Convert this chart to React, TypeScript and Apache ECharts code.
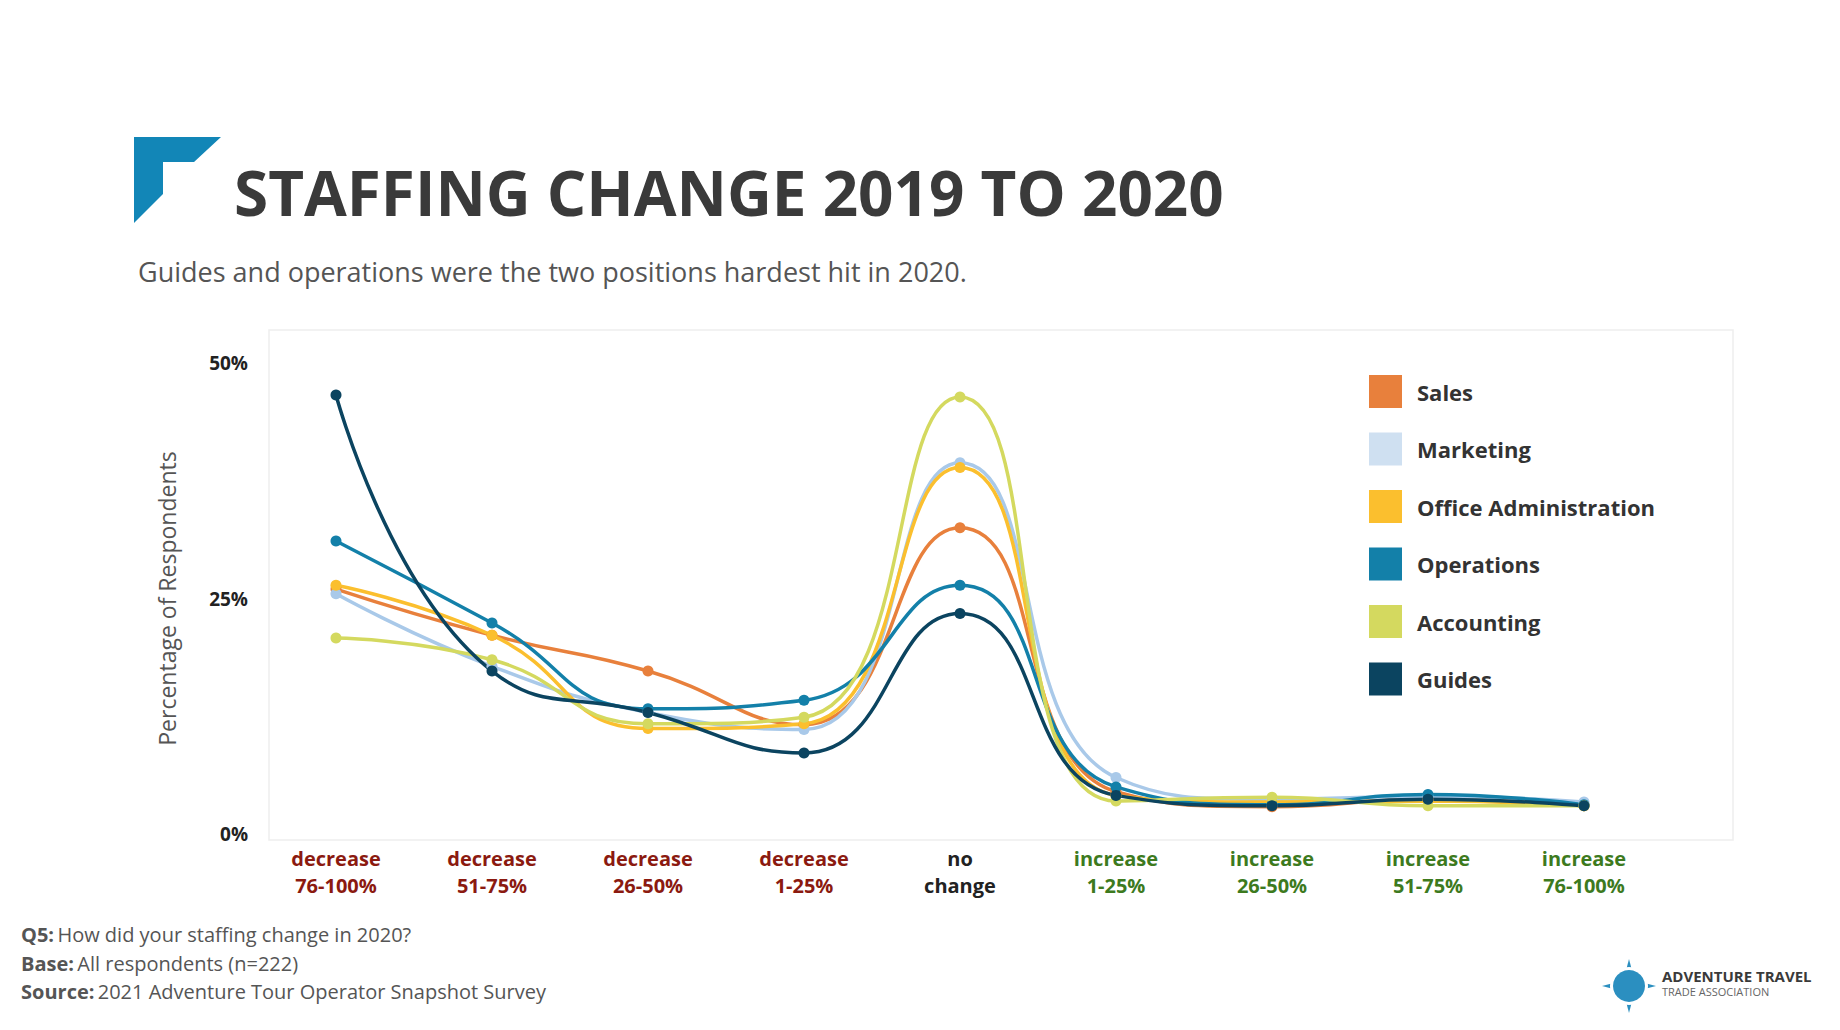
import React, { useEffect, useRef } from "react";
import * as echarts from "echarts";

const categories = ["decrease\n76-100%", "decrease\n51-75%", "decrease\n26-50%", "decrease\n1-25%", "no\nchange", "increase\n1-25%", "increase\n26-50%", "increase\n51-75%", "increase\n76-100%"];
const catKinds = ["d", "d", "d", "d", "n", "i", "i", "i", "i"];
const yTicks = [0, 25, 50];
const sales = [26.0, 21.1, 17.3, 11.6, 32.5, 4.5, 2.9, 3.7, 3.0];
const marketing = [25.5, 17.8, 12.9, 11.1, 39.4, 6.0, 3.7, 4.0, 3.4];
const officeAdmin = [26.4, 21.1, 11.2, 11.7, 38.9, 4.1, 3.4, 3.5, 3.0];
const operations = [31.1, 22.4, 13.3, 14.2, 26.4, 5.0, 3.1, 4.2, 3.1];
const accounting = [20.8, 18.5, 11.7, 12.4, 46.4, 3.5, 3.9, 3.0, 3.0];
const guides = [46.6, 17.3, 12.9, 8.6, 23.4, 4.1, 3.0, 3.7, 3.0];

const seriesDefs = [
  { name: "Sales", data: sales, color: "#E8803C", line: "#E8803C" },
  { name: "Marketing", data: marketing, color: "#CFE0F1", line: "#A9C9E9" },
  { name: "Office Administration", data: officeAdmin, color: "#FBBF2E", line: "#FBBF2E" },
  { name: "Operations", data: operations, color: "#1380A9", line: "#1380A9" },
  { name: "Accounting", data: accounting, color: "#D4D95F", line: "#D4D95F" },
  { name: "Guides", data: guides, color: "#0B4460", line: "#0B4460" },
];

const FONT = "'Open Sans', sans-serif";

export default function App() {
  const ref = useRef<HTMLDivElement>(null);
  useEffect(() => {
    const chart = echarts.init(ref.current!, null, { renderer: "svg" });
    const foot = { b: { fontWeight: "bold", fontSize: 20, fill: "#555", fontFamily: FONT }, r: { fontSize: 20, fill: "#555", fontFamily: FONT } };
    chart.setOption({
      animation: false,
      backgroundColor: "#fff",
      textStyle: { fontFamily: FONT },
      grid: { left: 258, right: 178, top: 363, bottom: 196, containLabel: false },
      xAxis: {
        type: "category",
        data: categories,
        boundaryGap: true,
        axisLine: { show: false },
        axisTick: { show: false },
        axisLabel: {
          margin: 11,
          lineHeight: 27,
          formatter: (v: string, i: number) => {
            const k = catKinds[i];
            return v.split("\n").map((s) => `{${k}|${s}}`).join("\n");
          },
          rich: {
            d: { color: "#8B1A10", fontSize: 20, fontWeight: "bold", fontFamily: FONT, lineHeight: 27 },
            n: { color: "#222", fontSize: 20, fontWeight: "bold", fontFamily: FONT, lineHeight: 27 },
            i: { color: "#3D7A1E", fontSize: 20, fontWeight: "bold", fontFamily: FONT, lineHeight: 27 },
          },
        },
      },
      yAxis: {
        type: "value",
        min: 0,
        max: 50,
        interval: 25,
        splitLine: { show: false },
        axisLine: { show: false },
        axisTick: { show: false },
        axisLabel: {
          margin: 10,
          color: "#222",
          fontSize: 19,
          fontWeight: "bold",
          formatter: (v: number) => (yTicks.includes(v) ? v + "%" : ""),
        },
        name: "Percentage of Respondents",
        nameLocation: "middle",
        nameGap: 80,
        nameTextStyle: { fontSize: 23, color: "#555" },
      },
      legend: {
        orient: "vertical",
        left: 1364,
        top: 370,
        itemWidth: 33,
        itemHeight: 33,
        itemGap: 24.5,
        icon: "rect",
        textStyle: { fontSize: 22, fontWeight: "bold", color: "#333", padding: [0, 0, 0, 10] },
        data: seriesDefs.map((s) => ({ name: s.name, itemStyle: { color: s.color } })),
      },
      series: seriesDefs.map((s) => ({
        name: s.name,
        type: "line",
        smooth: 0.5,
        data: s.data,
        symbol: "circle",
        symbolSize: 11,
        color: s.color,
        lineStyle: { color: s.line, width: 3.5 },
        itemStyle: { color: s.line },
      })),
      graphic: [
        { type: "rect", z: -10, shape: { x: 269, y: 330, width: 1464, height: 510 }, style: { fill: "#fff", stroke: "#EEEEEE", lineWidth: 1.5 } },
        { type: "polygon", shape: { points: [[134, 137], [221, 137], [194, 162], [163, 162], [163, 194], [134, 223]] }, style: { fill: "#1286B7" } },
        { type: "text", left: 234, top: 161, style: { text: "STAFFING CHANGE 2019 TO 2020", fontSize: 62, fontWeight: "bold", fill: "#3A3A3A", fontFamily: FONT } },
        { type: "text", left: 138, top: 258, style: { text: "Guides and operations were the two positions hardest hit in 2020.", fontSize: 27, fill: "#555", fontFamily: FONT } },
        { type: "text", left: 21, top: 924, style: { rich: foot, text: "{b|Q5:} {r|How did your staffing change in 2020?}" } },
        { type: "text", left: 21, top: 953, style: { rich: foot, text: "{b|Base:} {r|All respondents (n=222)}" } },
        { type: "text", left: 21, top: 981, style: { rich: foot, text: "{b|Source:} {r|2021 Adventure Tour Operator Snapshot Survey}" } },
        { type: "polygon", shape: { points: [[1629, 959], [1636, 986], [1629, 1013], [1622, 986]] }, style: { fill: "#2B8FC0" } },
        { type: "polygon", shape: { points: [[1602, 986], [1629, 979], [1656, 986], [1629, 993]] }, style: { fill: "#2B8FC0" } },
        { type: "circle", shape: { cx: 1629, cy: 986, r: 19 }, style: { fill: "#fff" } },
        { type: "circle", shape: { cx: 1629, cy: 986, r: 16 }, style: { fill: "#2B8FC0" } },
        { type: "text", left: 1662, top: 968, style: { text: "ADVENTURE TRAVEL", fontSize: 15, fontWeight: "bold", fill: "#3A3A3A", fontFamily: FONT } },
        { type: "text", left: 1662, top: 986, style: { text: "TRADE ASSOCIATION", fontSize: 11, fill: "#666", fontFamily: FONT } },
      ],
    });
    return () => chart.dispose();
  }, []);
  return <div ref={ref} style={{ position: "fixed", left: 0, top: 0, width: 1840, height: 1030 }} />;
}
